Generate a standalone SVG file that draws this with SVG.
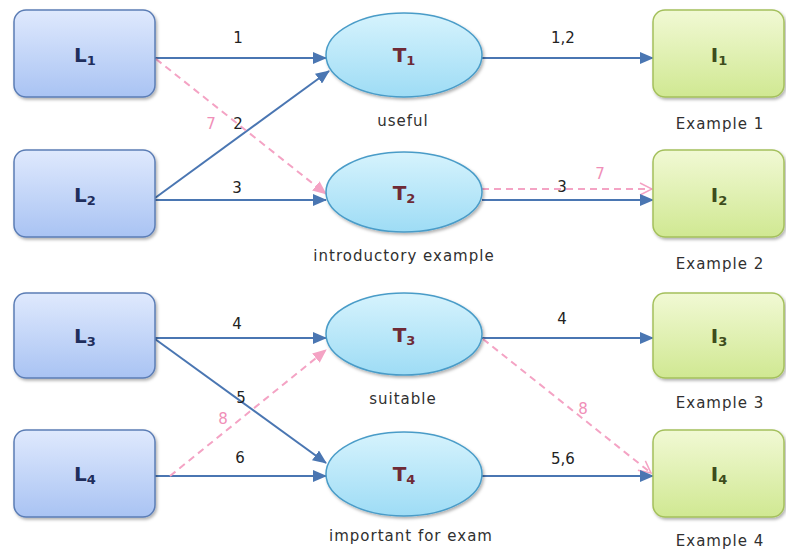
<svg xmlns="http://www.w3.org/2000/svg" width="786" height="551" viewBox="0 0 786 551">
<style>
.lbox{fill:url(#gBlue);stroke:#5b7db5;stroke-width:1.5;filter:url(#sh)}
.ell{fill:url(#gCyan);stroke:#4a9cc8;stroke-width:1.5;filter:url(#sh)}
.ibox{fill:url(#gGreen);stroke:#a4c05c;stroke-width:1.5;filter:url(#sh)}
.nl{font-family:"DejaVu Sans",sans-serif;font-weight:bold;font-size:20px;text-anchor:middle}
.ln{fill:#1f2e5c}.tn{fill:#6e2a36}.in{fill:#3d4c1c}
.sub{font-size:13px}
.cap{font-family:"DejaVu Sans",sans-serif;font-size:15px;letter-spacing:1px;fill:#303030;text-anchor:middle}
.el{font-family:"DejaVu Sans",sans-serif;font-size:15px;fill:#222;text-anchor:middle}
.pl{font-family:"DejaVu Sans",sans-serif;font-size:15px;fill:#f08fb8;text-anchor:middle}
.b{stroke:#4a76b2;stroke-width:2;fill:none;marker-end:url(#ab)}
.p{stroke:#f4a3c4;stroke-width:2;stroke-dasharray:7 5;fill:none}
.pf{marker-end:url(#ap)}
.po{marker-end:url(#apo)}
</style>
<defs>
<linearGradient id="gBlue" x1="0" y1="0" x2="0" y2="1"><stop offset="0" stop-color="#dfe9fd"/><stop offset="1" stop-color="#a9c3f3"/></linearGradient>
<linearGradient id="gCyan" x1="0" y1="0" x2="0" y2="1"><stop offset="0" stop-color="#d6f3fd"/><stop offset="1" stop-color="#9edcf5"/></linearGradient>
<linearGradient id="gGreen" x1="0" y1="0" x2="0" y2="1"><stop offset="0" stop-color="#f1f9d4"/><stop offset="1" stop-color="#d0e892"/></linearGradient>
<filter id="sh" x="-10%" y="-10%" width="125%" height="130%"><feDropShadow dx="1.5" dy="2" stdDeviation="1.5" flood-color="#000" flood-opacity="0.3"/></filter>
<marker id="ab" markerUnits="userSpaceOnUse" markerWidth="14" markerHeight="12" refX="13" refY="6" orient="auto"><path d="M0,0 L14,6 L0,12 Z" fill="#4a76b2"/></marker>
<marker id="ap" markerUnits="userSpaceOnUse" markerWidth="14" markerHeight="12" refX="13" refY="6" orient="auto"><path d="M0,0 L14,6 L0,12 Z" fill="#f4a3c4"/></marker>
<marker id="apo" markerUnits="userSpaceOnUse" markerWidth="14" markerHeight="14" refX="13" refY="7" orient="auto"><path d="M1,1 L13,7 L1,13" fill="none" stroke="#f4a3c4" stroke-width="1.5"/></marker>
</defs>

<g id="connectors">
<line class="b" x1="155" y1="58" x2="326" y2="58"/>
<line class="b" x1="155" y1="198" x2="329" y2="71"/>
<line class="b" x1="155" y1="200" x2="326" y2="200"/>
<line class="p pf" x1="156" y1="59" x2="326" y2="194"/>
<line class="b" x1="482" y1="58" x2="653" y2="58"/>
<line class="p po" x1="482" y1="189" x2="652" y2="189"/>
<line class="b" x1="482" y1="200" x2="653" y2="200"/>
<line class="b" x1="155" y1="338" x2="326" y2="338"/>
<line class="b" x1="155" y1="339" x2="326" y2="463"/>
<line class="b" x1="155" y1="476" x2="326" y2="476"/>
<line class="p pf" x1="170" y1="476" x2="326" y2="350"/>
<line class="b" x1="482" y1="338" x2="653" y2="338"/>
<line class="p po" x1="483" y1="339" x2="651" y2="473"/>
<line class="b" x1="482" y1="476" x2="653" y2="476"/>
<text class="el" x="238" y="43">1</text>
<text class="el" x="238" y="129">2</text>
<text class="pl" x="211" y="129">7</text>
<text class="el" x="237" y="193">3</text>
<text class="el" x="563" y="43">1,2</text>
<text class="el" x="562" y="192">3</text>
<text class="pl" x="600" y="179">7</text>
<text class="el" x="237" y="329">4</text>
<text class="el" x="241" y="403">5</text>
<text class="pl" x="223" y="424">8</text>
<text class="el" x="240" y="463">6</text>
<text class="el" x="562" y="324">4</text>
<text class="pl" x="583" y="414">8</text>
<text class="el" x="563" y="464">5,6</text>
</g>

<g id="L1"><rect class="lbox" x="14" y="10" width="141" height="87" rx="12"/><text class="nl ln" x="85" y="62">L<tspan class="sub" dy="3">1</tspan></text></g>
<g id="L2"><rect class="lbox" x="14" y="150" width="141" height="87" rx="12"/><text class="nl ln" x="85" y="202">L<tspan class="sub" dy="3">2</tspan></text></g>
<g id="L3"><rect class="lbox" x="14" y="293" width="141" height="85" rx="12"/><text class="nl ln" x="85" y="343">L<tspan class="sub" dy="3">3</tspan></text></g>
<g id="L4"><rect class="lbox" x="14" y="430" width="141" height="87" rx="12"/><text class="nl ln" x="85" y="481">L<tspan class="sub" dy="3">4</tspan></text></g>

<g id="T1"><ellipse class="ell" cx="404" cy="55" rx="78" ry="42"/><text class="nl tn" x="404" y="62">T<tspan class="sub" dy="3">1</tspan></text><text class="cap" x="403" y="126">useful</text></g>
<g id="T2"><ellipse class="ell" cx="404" cy="192" rx="78" ry="40"/><text class="nl tn" x="404" y="200">T<tspan class="sub" dy="3">2</tspan></text><text class="cap" x="404" y="261">introductory example</text></g>
<g id="T3"><ellipse class="ell" cx="404" cy="334" rx="78" ry="41"/><text class="nl tn" x="404" y="342">T<tspan class="sub" dy="3">3</tspan></text><text class="cap" x="403" y="404">suitable</text></g>
<g id="T4"><ellipse class="ell" cx="404" cy="474" rx="78" ry="42"/><text class="nl tn" x="404" y="481">T<tspan class="sub" dy="3">4</tspan></text><text class="cap" x="411" y="541">important for exam</text></g>

<g id="I1"><rect class="ibox" x="653" y="10" width="131" height="87" rx="12"/><text class="nl in" x="719" y="62">I<tspan class="sub" dy="3">1</tspan></text><text class="cap" x="720" y="129">Example 1</text></g>
<g id="I2"><rect class="ibox" x="653" y="150" width="131" height="87" rx="12"/><text class="nl in" x="719" y="202">I<tspan class="sub" dy="3">2</tspan></text><text class="cap" x="720" y="269">Example 2</text></g>
<g id="I3"><rect class="ibox" x="653" y="293" width="131" height="85" rx="12"/><text class="nl in" x="719" y="343">I<tspan class="sub" dy="3">3</tspan></text><text class="cap" x="720" y="408">Example 3</text></g>
<g id="I4"><rect class="ibox" x="653" y="430" width="131" height="87" rx="12"/><text class="nl in" x="719" y="481">I<tspan class="sub" dy="3">4</tspan></text><text class="cap" x="720" y="546">Example 4</text></g>
</svg>
